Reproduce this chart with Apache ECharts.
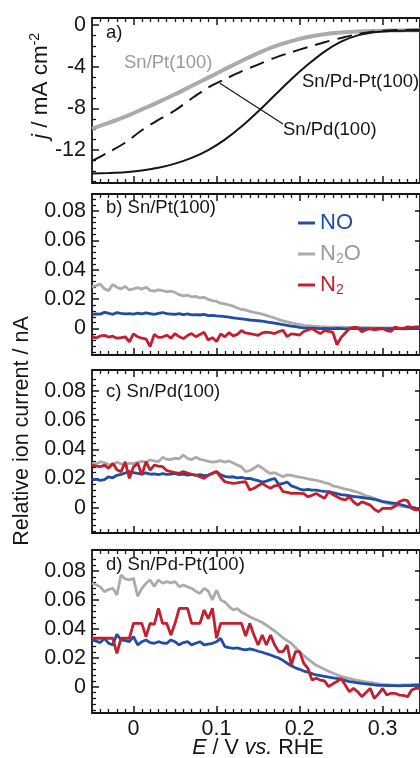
<!DOCTYPE html>
<html><head><meta charset="utf-8">
<script src="https://cdn.jsdelivr.net/npm/echarts@6/dist/echarts.min.js"></script>
<style>html,body{margin:0;padding:0;background:#fff}#c{width:420px;height:758px}</style>
</head><body><div id="c"></div>
<script>
// ---------- DATA ----------
// Panel a: current density j (mA cm-2) vs E (V vs RHE)
const aE = [-0.05,-0.03,-0.01,0.01,0.03,0.05,0.07,0.09,0.11,0.13,0.15,0.17,0.19,0.21,0.23,0.25,0.27,0.29,0.31,0.33,0.345];
const aJ_Pt   = [-9.95,-9.4,-8.8,-8.1,-7.4,-6.65,-5.85,-5.05,-4.25,-3.45,-2.7,-2.05,-1.55,-1.15,-0.88,-0.72,-0.63,-0.58,-0.54,-0.51,-0.5];
const aJ_Pd   = [-13.05,-12.2,-11.3,-10.1,-9.1,-8.2,-7.05,-6.0,-5.2,-4.45,-3.8,-3.15,-2.62,-2.12,-1.65,-1.25,-0.88,-0.62,-0.5,-0.47,-0.46];
const aJ_PdPt = [-14.25,-14.2,-14.12,-13.95,-13.7,-13.3,-12.75,-12.0,-11.0,-9.75,-8.3,-6.75,-5.2,-3.8,-2.55,-1.6,-1.0,-0.7,-0.57,-0.55,-0.56];

// Panels b-d: relative ion current (nA) vs E
const E = [-0.05,-0.045,-0.04,-0.035,-0.03,-0.025,-0.02,-0.015,-0.01,-0.005,
  0,0.005,0.01,0.015,0.02,0.025,0.03,0.035,0.04,0.045,
  0.05,0.055,0.06,0.065,0.07,0.075,0.08,0.085,0.09,0.095,
  0.1,0.105,0.11,0.115,0.12,0.125,0.13,0.135,0.14,0.145,
  0.15,0.155,0.16,0.165,0.17,0.175,0.18,0.185,0.19,0.195,
  0.2,0.205,0.21,0.215,0.22,0.225,0.23,0.235,0.24,0.245,
  0.25,0.255,0.26,0.265,0.27,0.275,0.28,0.285,0.29,0.295,
  0.3,0.305,0.31,0.315,0.32,0.325,0.33,0.335,0.34,0.345];

const bNO = [0.0095,0.0100,0.0098,0.0110,0.0104,0.0097,0.0108,0.0103,0.0099,0.0101,
  0.0098,0.0104,0.0100,0.0107,0.0102,0.0097,0.0103,0.0109,0.0101,0.0098,
  0.0097,0.0101,0.0094,0.0099,0.0093,0.0095,0.0092,0.0096,0.0088,0.0090,
  0.0086,0.0084,0.0081,0.0077,0.0073,0.0069,0.0066,0.0062,0.0058,0.0056,
  0.0053,0.0050,0.0046,0.0041,0.0037,0.0032,0.0027,0.0022,0.0017,0.0013,
  0.0008,0.0005,0.0003,0.0002,0.0001,0.0000,0.0001,-0.0001,0.0000,0.0001,
  0.0000,-0.0002,0.0000,0.0001,-0.0001,0.0000,0.0000,-0.0002,0.0000,0.0001,
  0.0000,-0.0001,0.0000,0.0001,0.0000,-0.0002,0.0000,0.0001,0.0000,-0.0001];
const bN2O = [0.0283,0.0292,0.0302,0.0270,0.0258,0.0300,0.0281,0.0270,0.0286,0.0262,
  0.0270,0.0278,0.0268,0.0281,0.0260,0.0255,0.0263,0.0258,0.0250,0.0254,
  0.0246,0.0230,0.0222,0.0228,0.0215,0.0219,0.0208,0.0212,0.0198,0.0190,
  0.0184,0.0172,0.0168,0.0160,0.0152,0.0140,0.0130,0.0126,0.0117,0.0110,
  0.0104,0.0098,0.0089,0.0080,0.0072,0.0060,0.0052,0.0045,0.0038,0.0032,
  0.0028,0.0022,0.0019,0.0016,0.0014,0.0012,0.0011,0.0010,0.0010,0.0009,
  0.0009,0.0008,0.0008,0.0007,0.0007,0.0006,0.0006,0.0006,0.0005,0.0005,
  0.0005,0.0004,0.0004,0.0004,0.0003,0.0003,0.0003,0.0002,0.0002,0.0002];
const bN2 = [-0.0057,-0.0064,-0.0050,-0.0046,-0.0058,-0.0052,-0.0066,-0.0062,-0.0056,-0.0090,
  -0.0036,-0.0056,-0.0066,-0.0070,-0.0122,-0.0040,-0.0060,-0.0058,-0.0045,-0.0066,
  -0.0034,-0.0056,-0.0068,-0.0048,-0.0034,-0.0056,-0.0040,-0.0026,-0.0078,-0.0062,
  -0.0088,-0.0036,-0.0056,-0.0028,-0.0050,-0.0040,-0.0014,-0.0030,-0.0034,-0.0040,
  -0.0046,-0.0030,-0.0024,-0.0028,-0.0034,-0.0020,-0.0012,-0.0055,-0.0036,-0.0040,
  -0.0044,-0.0020,-0.0010,0.0000,-0.0020,-0.0034,-0.0014,-0.0020,-0.0025,-0.0110,
  -0.0060,-0.0030,0.0000,0.0008,0.0006,-0.0022,-0.0008,0.0000,-0.0010,-0.0004,
  0.0000,-0.0014,-0.0020,0.0010,0.0002,0.0000,0.0011,0.0008,0.0011,0.0011];

const cNO = [0.0190,0.0195,0.0188,0.0192,0.0212,0.0205,0.0222,0.0228,0.0238,0.0247,
  0.0240,0.0235,0.0232,0.0238,0.0230,0.0232,0.0226,0.0234,0.0228,0.0230,
  0.0235,0.0226,0.0230,0.0224,0.0228,0.0222,0.0226,0.0220,0.0224,0.0236,
  0.0247,0.0225,0.0215,0.0210,0.0212,0.0205,0.0208,0.0200,0.0201,0.0192,
  0.0186,0.0176,0.0182,0.0192,0.0200,0.0160,0.0166,0.0176,0.0150,0.0140,
  0.0128,0.0121,0.0125,0.0120,0.0121,0.0116,0.0112,0.0110,0.0104,0.0096,
  0.0090,0.0086,0.0082,0.0077,0.0074,0.0070,0.0066,0.0063,0.0058,0.0050,
  0.0042,0.0038,0.0034,0.0030,0.0024,0.0016,0.0008,0.0002,-0.0003,-0.0005];
const cN2O = [0.0304,0.0300,0.0315,0.0308,0.0296,0.0290,0.0312,0.0300,0.0292,0.0306,
  0.0302,0.0310,0.0318,0.0312,0.0327,0.0320,0.0315,0.0345,0.0332,0.0330,
  0.0340,0.0335,0.0361,0.0338,0.0330,0.0345,0.0332,0.0325,0.0318,0.0312,
  0.0315,0.0322,0.0312,0.0320,0.0306,0.0292,0.0280,0.0247,0.0255,0.0270,
  0.0290,0.0272,0.0250,0.0235,0.0240,0.0226,0.0212,0.0225,0.0222,0.0215,
  0.0210,0.0205,0.0198,0.0193,0.0188,0.0180,0.0172,0.0165,0.0150,0.0144,
  0.0136,0.0128,0.0122,0.0114,0.0106,0.0095,0.0082,0.0074,0.0064,0.0052,
  0.0042,0.0032,0.0024,0.0018,0.0012,0.0008,0.0005,0.0002,-0.0002,-0.0005];
const cN2 = [0.0292,0.0285,0.0281,0.0292,0.0270,0.0304,0.0260,0.0247,0.0315,0.0201,
  0.0280,0.0304,0.0224,0.0315,0.0258,0.0292,0.0285,0.0281,0.0255,0.0247,
  0.0240,0.0235,0.0247,0.0238,0.0228,0.0224,0.0212,0.0201,0.0222,0.0235,
  0.0247,0.0210,0.0178,0.0172,0.0167,0.0170,0.0175,0.0178,0.0121,0.0133,
  0.0150,0.0167,0.0148,0.0133,0.0150,0.0155,0.0110,0.0105,0.0098,0.0100,
  0.0098,0.0096,0.0075,0.0085,0.0098,0.0080,0.0064,0.0110,0.0090,0.0075,
  0.0060,0.0053,0.0075,0.0040,0.0018,0.0041,0.0030,0.0018,-0.0010,-0.0027,
  -0.0005,-0.0005,-0.0005,0.0010,0.0041,0.0053,0.0048,-0.0005,-0.0016,-0.0012];

const dNO = [0.0323,0.0315,0.0305,0.0334,0.0300,0.0289,0.0362,0.0323,0.0318,0.0311,
  0.0346,0.0289,0.0310,0.0323,0.0305,0.0300,0.0311,0.0302,0.0300,0.0323,
  0.0310,0.0289,0.0305,0.0311,0.0289,0.0300,0.0311,0.0289,0.0295,0.0300,
  0.0311,0.0334,0.0277,0.0270,0.0265,0.0268,0.0260,0.0254,0.0262,0.0255,
  0.0245,0.0238,0.0228,0.0219,0.0208,0.0198,0.0182,0.0162,0.0145,0.0130,
  0.0120,0.0108,0.0100,0.0090,0.0081,0.0076,0.0071,0.0066,0.0061,0.0057,
  0.0050,0.0043,0.0035,0.0031,0.0027,0.0023,0.0020,0.0016,0.0012,0.0010,
  0.0009,0.0008,0.0007,0.0007,0.0006,0.0007,0.0007,0.0008,0.0010,0.0012];
const dN2O = [0.0715,0.0705,0.0690,0.0657,0.0672,0.0680,0.0634,0.0772,0.0745,0.0738,
  0.0749,0.0625,0.0680,0.0715,0.0738,0.0692,0.0738,0.0715,0.0726,0.0718,
  0.0726,0.0692,0.0703,0.0690,0.0680,0.0660,0.0645,0.0680,0.0660,0.0600,
  0.0669,0.0600,0.0585,0.0555,0.0530,0.0540,0.0515,0.0500,0.0484,0.0470,
  0.0458,0.0444,0.0425,0.0405,0.0385,0.0362,0.0338,0.0318,0.0300,0.0270,
  0.0242,0.0215,0.0190,0.0170,0.0148,0.0135,0.0120,0.0106,0.0095,0.0082,
  0.0072,0.0064,0.0057,0.0049,0.0043,0.0038,0.0033,0.0029,0.0024,0.0019,
  0.0016,0.0014,0.0012,0.0011,0.0011,0.0012,0.0013,0.0014,0.0014,0.0013];
const dN2 = [0.0335,0.0335,0.0335,0.0335,0.0335,0.0335,0.0230,0.0335,0.0335,0.0335,
  0.0438,0.0438,0.0438,0.0346,0.0438,0.0430,0.0542,0.0438,0.0438,0.0357,
  0.0438,0.0542,0.0542,0.0542,0.0438,0.0438,0.0438,0.0530,0.0470,0.0542,
  0.0335,0.0438,0.0438,0.0438,0.0438,0.0438,0.0438,0.0350,0.0438,0.0357,
  0.0288,0.0357,0.0288,0.0357,0.0288,0.0242,0.0242,0.0288,0.0150,0.0242,
  0.0242,0.0162,0.0127,0.0046,0.0058,0.0046,0.0040,0.0000,0.0020,0.0035,
  0.0058,0.0012,-0.0035,-0.0012,-0.0035,-0.0069,-0.0040,-0.0012,-0.0081,-0.0050,
  -0.0012,-0.0058,-0.0046,-0.0046,-0.0058,-0.0060,-0.0069,-0.0023,-0.0012,-0.0012];

// Tick labels
const xTickVals = [0, 0.1, 0.2, 0.3];
const yTickValsA = [0, -4, -8, -12];
const yTickValsB = [0, 0.02, 0.04, 0.06, 0.08];

// ---------- STYLE / LAYOUT ----------
const FONT = "'Liberation Sans', Arial, Helvetica, sans-serif";
const INK = '#161616';
const BLUE = '#1f4ea3', RED = '#c21f2f', GREY = '#ababab', GREY_T = '#9a9a9a';
const XMIN = -0.05, XMAX = 0.345;
const grids = [
  {left: 92, top: 18,  width: 329, height: 165},
  {left: 92, top: 194, width: 329, height: 161},
  {left: 92, top: 370, width: 329, height: 163},
  {left: 92, top: 550, width: 329, height: 163}
];
const yRanges = [[-15.16, 0.67], [-0.018, 0.0915], [-0.0173, 0.0943], [-0.0182, 0.0945]];

function range(a, b, step) { const r = []; for (let v = a; v <= b + 1e-9; v += step) r.push(+v.toFixed(4)); return r; }
const xMinor = range(-0.04, 0.34, 0.01).filter(v => !xTickVals.some(t => Math.abs(t - v) < 1e-6));
const yMinorA = range(-15, 0, 1).filter(v => v % 4 !== 0);
const yMinorB = range(-0.016, 0.088, 0.004).filter(v => !yTickValsB.some(t => Math.abs(t - v) < 1e-6));

const lineW = 1.8;
const xAxes = [], yAxes = [];
grids.forEach((g, gi) => {
  const base = {type: 'value', gridIndex: gi, min: XMIN, max: XMAX, splitLine: {show: false}};
  ['bottom', 'top'].forEach(pos => {
    xAxes.push(Object.assign({}, base, {
      position: pos,
      axisLine: {show: true, onZero: false, lineStyle: {color: INK, width: lineW}},
      axisTick: {show: true, inside: true, length: 7, customValues: xTickVals, lineStyle: {color: INK, width: 1.5}},
      axisLabel: {show: gi === 3 && pos === 'bottom', customValues: xTickVals, margin: 5,
        fontSize: 21.5, fontFamily: FONT, color: INK, formatter: v => (v === 0 ? '0' : v.toFixed(1))}
    }));
    xAxes.push(Object.assign({}, base, {
      position: pos,
      axisLine: {show: false, onZero: false},
      axisTick: {show: true, inside: true, length: 4, customValues: xMinor, lineStyle: {color: INK, width: 1.3}},
      axisLabel: {show: false}
    }));
  });
  const yr = yRanges[gi];
  const major = gi === 0 ? yTickValsA : yTickValsB;
  const minor = gi === 0 ? yMinorA : yMinorB;
  const ybase = {type: 'value', gridIndex: gi, min: yr[0], max: yr[1], splitLine: {show: false}};
  yAxes.push(Object.assign({}, ybase, {
    position: 'left',
    axisLine: {show: true, onZero: false, lineStyle: {color: INK, width: lineW}},
    axisTick: {show: true, inside: true, length: 7, customValues: major, lineStyle: {color: INK, width: 1.5}},
    axisLabel: {show: true, customValues: major, margin: 6, fontSize: 21.5, fontFamily: FONT, color: INK,
      formatter: v => (gi === 0 ? String(Math.round(v)) : (Math.abs(v) < 1e-9 ? '0' : v.toFixed(2)))}
  }));
  yAxes.push(Object.assign({}, ybase, {
    position: 'left',
    axisLine: {show: false, onZero: false},
    axisTick: {show: true, inside: true, length: 4, customValues: minor, lineStyle: {color: INK, width: 1.3}},
    axisLabel: {show: false}
  }));
  yAxes.push(Object.assign({}, ybase, {
    position: 'right',
    axisLine: {show: true, onZero: false, lineStyle: {color: INK, width: lineW}},
    axisTick: {show: gi !== 0, inside: true, length: 5, customValues: major, lineStyle: {color: INK, width: 1.5}},
    axisLabel: {show: false}
  }));
});

function pairs(xs, ys) { return xs.map((x, i) => [x, ys[i]]); }
function ionSeries(gi, name, ys, color) {
  return {type: 'line', name, xAxisIndex: gi * 4, yAxisIndex: gi * 3, data: pairs(E, ys),
    showSymbol: false, symbol: 'none', lineStyle: {color, width: 2.8}, itemStyle: {color}, z: 3};
}
function curve(name, xs, ys, color, width, type) {
  return {type: 'line', name, xAxisIndex: 0, yAxisIndex: 0, data: pairs(xs, ys),
    showSymbol: false, symbol: 'none', smooth: 0.3,
    lineStyle: {color, width, type}, itemStyle: {color}};
}

const series = [
  curve('Sn/Pt(100)', aE, aJ_Pt, GREY, 4, 'solid'),
  Object.assign(curve('Sn/Pd(100)', aE, aJ_Pd, INK, 2, [15, 8]), {
    markLine: {symbol: ['none', 'none'], silent: true, label: {show: false},
      lineStyle: {color: INK, width: 1.2, type: 'solid'},
      data: [[{coord: [0.104, -5.6]}, {coord: [0.18, -9.5]}]]}
  }),
  curve('Sn/Pd-Pt(100)', aE, aJ_PdPt, INK, 2, 'solid')
];
[[bNO, bN2O, bN2], [cNO, cN2O, cN2], [dNO, dN2O, dN2]].forEach((set, k) => {
  const gi = k + 1;
  series.push(ionSeries(gi, 'N2O', set[1], GREY));
  series.push(ionSeries(gi, 'NO', set[0], BLUE));
  series.push(ionSeries(gi, 'N2', set[2], RED));
});

function txt(x, y, text, size, color, extra) {
  return Object.assign({type: 'text', x, y, silent: true, z: 10,
    style: Object.assign({text, font: size + 'px ' + FONT, fill: color, verticalAlign: 'middle', align: 'left'}, extra || {})});
}

const graphics = [
  txt(106, 33, 'a)', 18.5, INK),
  txt(124, 63, 'Sn/Pt(100)', 18.5, GREY_T),
  txt(302, 82, 'Sn/Pd-Pt(100)', 18.5, INK),
  txt(283, 130, 'Sn/Pd(100)', 18.5, INK),
  txt(106, 208, 'b) Sn/Pt(100)', 18.5, INK),
  txt(106, 392, 'c) Sn/Pd(100)', 18.5, INK),
  txt(106, 565, 'd) Sn/Pd-Pt(100)', 18.5, INK),
  {type: 'text', x: 22, y: 431, rotation: Math.PI / 2, silent: true,
    style: {text: 'Relative ion current / nA', font: '21.5px ' + FONT, fill: INK, align: 'center', verticalAlign: 'middle'}},
  {type: 'text', x: 41, y: 86, rotation: Math.PI / 2, silent: true,
    style: {text: '{i|j} / mA cm{s|-2}', font: '22.5px ' + FONT, fill: INK, align: 'center', verticalAlign: 'middle',
      rich: {i: {fontStyle: 'italic', fontSize: 22.5, fontFamily: FONT, fill: INK, lineHeight: 26},
             s: {fontSize: 14, fontFamily: FONT, fill: INK, verticalAlign: 'top', lineHeight: 14}}}},
  {type: 'text', x: 258, y: 748, silent: true,
    style: {text: '{i|E} / V {i|vs.} RHE', font: '21.5px ' + FONT, fill: INK, align: 'center', verticalAlign: 'middle',
      rich: {i: {fontStyle: 'italic', fontSize: 21.5, fontFamily: FONT, fill: INK}}}}
];

const chart = echarts.init(document.getElementById('c'), null, {renderer: 'canvas'});
chart.setOption({
  animation: false,
  backgroundColor: '#ffffff',
  grid: grids,
  xAxis: xAxes,
  yAxis: yAxes,
  legend: {
    orient: 'vertical', left: 293, top: 206, itemWidth: 17, itemHeight: 3, itemGap: 7, icon: 'rect',
    selectedMode: false,
    data: [{name: 'NO', textStyle: {color: BLUE}}, {name: 'N2O', textStyle: {color: GREY_T}}, {name: 'N2', textStyle: {color: RED}}],
    formatter: n => (n === 'N2O' ? 'N{sg|2}O' : n === 'N2' ? 'N{sr|2}' : n),
    textStyle: {fontSize: 22, fontFamily: FONT, lineHeight: 24,
      rich: {sg: {fontSize: 14, fontFamily: FONT, color: GREY_T, verticalAlign: 'bottom', lineHeight: 16},
             sr: {fontSize: 14, fontFamily: FONT, color: RED, verticalAlign: 'bottom', lineHeight: 16}}}
  },
  series,
  graphic: graphics
});
</script></body></html>
